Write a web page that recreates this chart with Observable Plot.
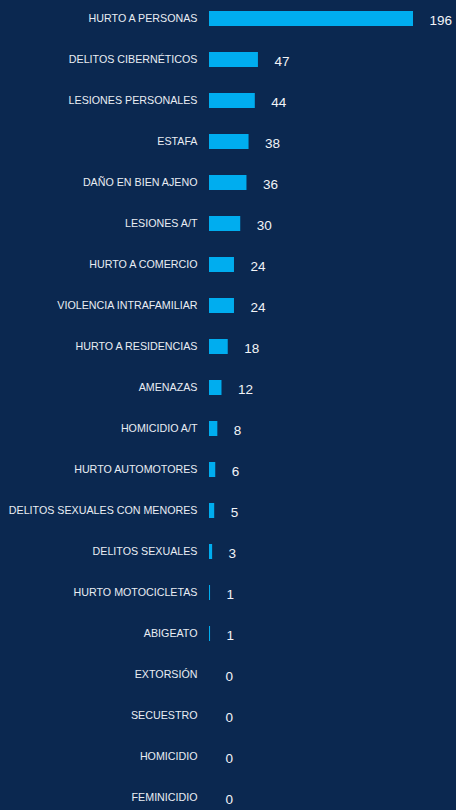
<!DOCTYPE html>
<html>
<head>
<meta charset="utf-8">
<script src="https://cdn.jsdelivr.net/npm/d3@7"></script>
<script src="https://cdn.jsdelivr.net/npm/@observablehq/plot@0.6"></script>
<style>
  html, body { margin: 0; padding: 0; background: #0b2850; }
  #chart { width: 456px; height: 810px; }
</style>
</head>
<body>
<div id="chart"></div>
<script>
const categories = [
  "HURTO A PERSONAS",
  "DELITOS CIBERNÉTICOS",
  "LESIONES PERSONALES",
  "ESTAFA",
  "DAÑO EN BIEN AJENO",
  "LESIONES A/T",
  "HURTO A COMERCIO",
  "VIOLENCIA INTRAFAMILIAR",
  "HURTO A RESIDENCIAS",
  "AMENAZAS",
  "HOMICIDIO A/T",
  "HURTO AUTOMOTORES",
  "DELITOS SEXUALES CON MENORES",
  "DELITOS SEXUALES",
  "HURTO MOTOCICLETAS",
  "ABIGEATO",
  "EXTORSIÓN",
  "SECUESTRO",
  "HOMICIDIO",
  "FEMINICIDIO"
];
const values = [196, 47, 44, 38, 36, 30, 24, 24, 18, 12, 8, 6, 5, 3, 1, 1, 0, 0, 0, 0];

const data = categories.map((c, i) => ({category: c, value: values[i]}));

const step = 41.26;
const firstCenter = 16.3;
const n = categories.length;

const chart = Plot.plot({
  width: 456,
  height: 810,
  marginLeft: 209,
  marginRight: 43,
  marginTop: 0,
  marginBottom: 0,
  style: {background: "#0b2850", fontFamily: "'Liberation Sans', Arial, sans-serif", color: "#ffffff"},
  x: {domain: [0, 196], axis: null},
  y: {
    domain: categories,
    paddingInner: 0.636,
    paddingOuter: 0.318,
    range: [firstCenter - step / 2, firstCenter - step / 2 + n * step],
    axis: null
  },
  marks: [
    Plot.barX(data.filter(d => d.value > 0), {x: "value", y: "category", fill: "#00adef"}),
    Plot.text(data, {x: 0, y: "category", text: "category", textAnchor: "end", dx: -12, fontSize: 10.7, fill: "#e9edf3"}),
    Plot.text(data, {x: "value", y: "category", text: d => String(d.value), textAnchor: "start", dx: 16, dy: 1.5, fontSize: 13.5, fill: "#f2f4f7"})
  ]
});
document.getElementById("chart").appendChild(chart);
</script>
</body>
</html>
